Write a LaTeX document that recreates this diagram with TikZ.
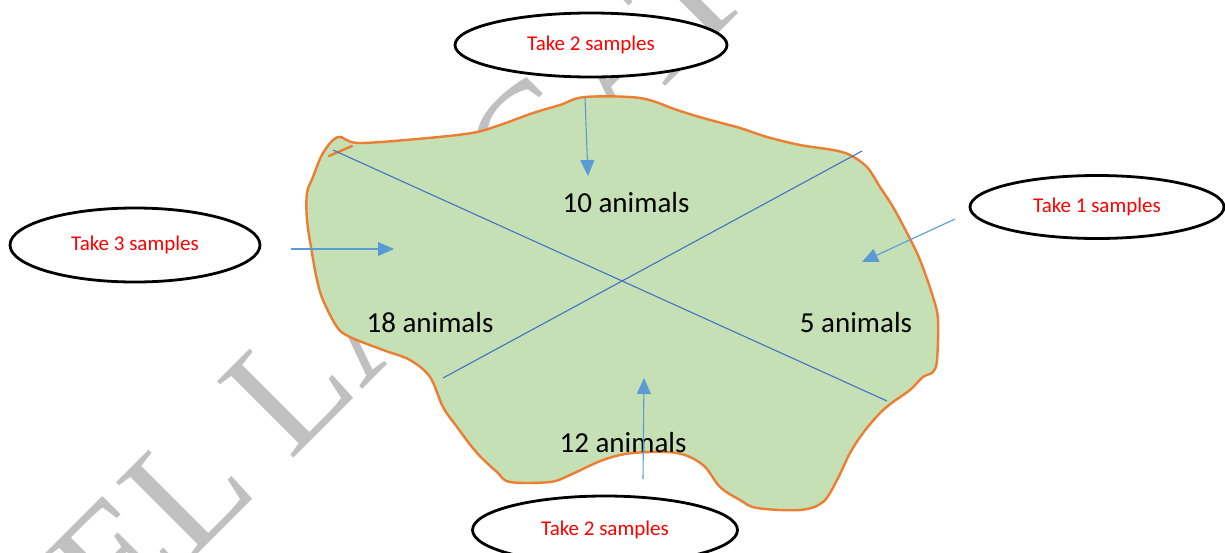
\documentclass[tikz,border=0pt]{standalone}
\usepackage{fontspec}
\setmainfont{Carlito}
\newfontfamily\wmfont{Liberation Serif}
\usetikzlibrary{shapes.geometric,arrows.meta}
\definecolor{fieldgreen}{HTML}{C5E0B4}
\definecolor{fieldedge}{HTML}{ED7D31}
\definecolor{divblue}{HTML}{4472C4}
\definecolor{arrblue}{HTML}{5B9BD5}
\definecolor{wmgray}{HTML}{C0C0C0}
\begin{document}
\begin{tikzpicture}[x=1pt,y=-1pt,
  ell/.style={ellipse, draw=black, line width=2.8pt, fill=white, inner sep=0pt,
    text=red, font=\fontsize{21}{21}\selectfont},
  lbl/.style={font=\fontsize{29}{29}\selectfont, text=black, inner sep=0pt},
  divline/.style={draw=divblue, line width=1.1pt},
  ptr/.style={draw=arrblue, line width=1.1pt, -{Triangle[length=16pt,width=14pt]}},
  wm/.style={text=wmgray, font=\wmfont\fontsize{165}{165}\selectfont, rotate=45, inner sep=0pt},
  fieldline/.style={draw=fieldedge, line width=2.4pt, line join=round, line cap=round}]
\useasboundingbox (0,0) rectangle (1225,552);
% watermark
\node[wm, anchor=base west] (wmb) at (290,462) {LANGAT};
\node[wm, anchor=base east] (wma) at (261,491) {SAMUEL};
% field
\path[fieldline, fill=fieldgreen] plot[smooth cycle, tension=0.55] coordinates {
 (358,143) (417,139) (472,133) (500,125) (533,113) (560,105) (585,97) (640,98)
 (677,110) (703,118) (740,128) (767,137) (800,145) (833,150) (850,155) (867,167)
 (880,187) (893,207) (907,233) (920,260) (933,297) (938,320) (937,360) (933,372)
 (923,377) (910,390) (893,402) (880,413) (863,433) (850,453) (837,480) (823,502)
 (800,510) (757,508) (740,500) (720,487) (703,465) (677,453) (633,453) (603,460)
 (570,475) (550,482) (510,482) (497,472) (477,453) (457,427) (443,407) (430,377)
 (410,360) (383,350) (350,337) (337,327) (323,300) (317,280) (312,253) (307,220)
 (307,193) (313,177) (323,153) (338,137) };
\coordinate (t1) at (352,146);
\coordinate (t2) at (329,156);
\draw[fieldline] (t1) -- (t2);
% dividing lines
\coordinate (d1a) at (333,150);
\coordinate (d1b) at (887,401);
\coordinate (d2a) at (443,378);
\coordinate (d2b) at (862,151);
\draw[divline] (d1a) -- (d1b);
\draw[divline] (d2a) -- (d2b);
% labels
\node[lbl] (n10) at (626,203) {10 animals};
\node[lbl] (n18) at (430,323) {18 animals};
\node[lbl] (n5) at (856,323) {5 animals};
\node[lbl] (n12) at (623,443) {12 animals};
% ellipses
\node[ell, minimum width=272pt, minimum height=64pt] (etop) at (591,45) {Take 2 samples};
\node[ell, minimum width=254pt, minimum height=63pt] (eright) at (1097,207) {Take 1 samples};
\node[ell, minimum width=250pt, minimum height=74pt] (eleft) at (135,245) {Take 3 samples};
\node[ell, minimum width=265pt, minimum height=68pt] (ebot) at (605,530) {Take 2 samples};
% arrows
\coordinate (atop0) at (585,98);
\coordinate (atop1) at (588,176);
\coordinate (aleft0) at (291,249);
\coordinate (aleft1) at (394,249);
\coordinate (aright0) at (955,219);
\coordinate (aright1) at (862,262);
\coordinate (abot0) at (643,479);
\coordinate (abot1) at (644,378);
\draw[ptr] (atop0) -- (atop1);
\draw[ptr] (aleft0) -- (aleft1);
\draw[ptr] (aright0) -- (aright1);
\draw[ptr] (abot0) -- (abot1);
\end{tikzpicture}
\end{document}
